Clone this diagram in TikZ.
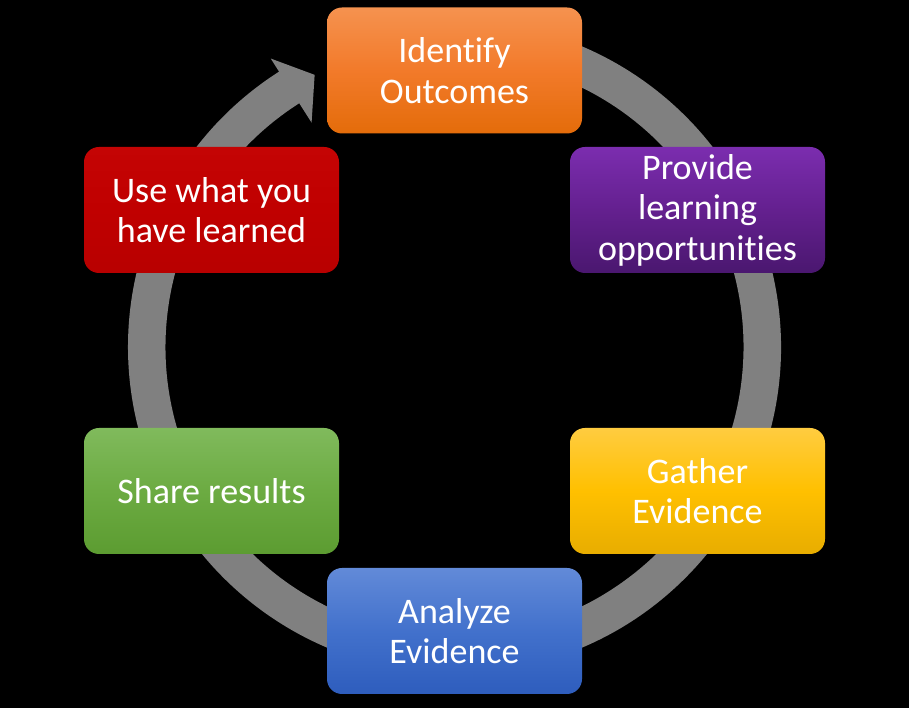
\documentclass[tikz,border=0pt]{standalone}
\usepackage{fontspec}
\setmainfont[Ligatures={NoCommon,NoRare}]{Carlito}
\begin{document}
\begin{tikzpicture}[x=1pt,y=1pt,
  box/.style={rounded corners=15pt, minimum width=255pt, minimum height=126pt,
    inner sep=0pt, align=center, text=white,
    font=\fontsize{36pt}{40.5pt}\selectfont},
  ringc/.style={fill=ringgray}]
\definecolor{ringgray}{HTML}{808080}
\definecolor{orT}{HTML}{F5924F}\definecolor{orM}{HTML}{F27A2A}\definecolor{orB}{HTML}{E46C0A}
\definecolor{puT}{HTML}{7B2DAF}\definecolor{puM}{HTML}{64208F}\definecolor{puB}{HTML}{4A176F}
\definecolor{yeT}{HTML}{FFCC40}\definecolor{yeM}{HTML}{FFC000}\definecolor{yeB}{HTML}{E8AD00}
\definecolor{blT}{HTML}{628AD8}\definecolor{blM}{HTML}{4271CC}\definecolor{blB}{HTML}{2E5DBD}
\definecolor{grT}{HTML}{80BA5C}\definecolor{grM}{HTML}{6CAB42}\definecolor{grB}{HTML}{5C9C31}
\definecolor{reT}{HTML}{C40404}\definecolor{reM}{HTML}{C00000}\definecolor{reB}{HTML}{B80000}
\useasboundingbox[fill=black] (0,0) rectangle (909,708);
\coordinate (C) at (454.5,361);
% ring arrow
\fill[ringc] ([shift={(100:326.5pt)}]C) arc[start angle=100, end angle=-237.5, radius=326.5pt]
  -- ([shift={(122.5:342pt)}]C) -- ([shift={(117.2:306pt)}]C) -- ([shift={(122.5:266pt)}]C)
  -- ([shift={(122.5:289pt)}]C) arc[start angle=-237.5, end angle=100, radius=289pt] -- cycle;
% boxes
\node[box, top color=orT, bottom color=orB, middle color=orM] (ident) at (454.5,637.5) {Identify\\Outcomes};
\node[box, top color=puT, bottom color=puB, middle color=puM] (provide) at (697.5,498) {Provide\\learning\\opportunities};
\node[box, top color=yeT, bottom color=yeB, middle color=yeM] (gather) at (697.5,217) {Gather\\Evidence};
\node[box, top color=blT, bottom color=blB, middle color=blM] (analyze) at (454.5,77) {Analyze\\Evidence};
\node[box, top color=grT, bottom color=grB, middle color=grM] (share) at (211.5,217) {Share results};
\node[box, top color=reT, bottom color=reB, middle color=reM] (use) at (211.5,498) {Use what you\\have learned};
\end{tikzpicture}
\end{document}
